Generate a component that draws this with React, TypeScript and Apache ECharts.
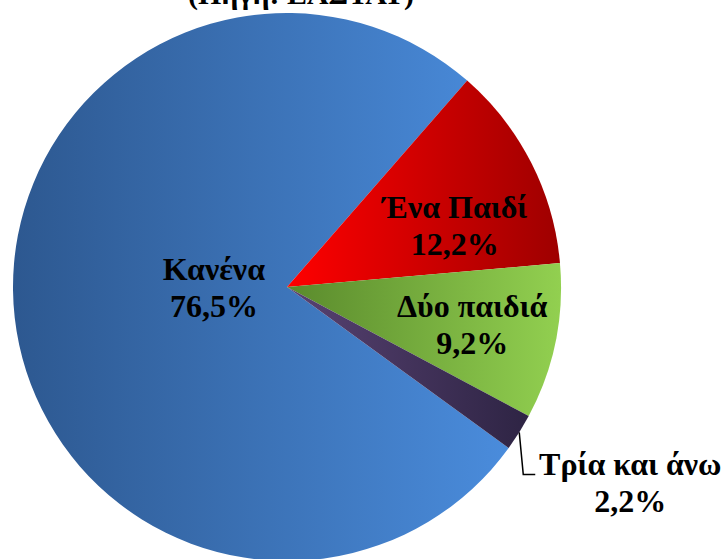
import React, { useEffect, useRef } from "react";
import * as echarts from "echarts";

const categories = ["Κανένα", "Ένα Παιδί", "Δύο παιδιά", "Τρία και άνω"];
const values = [76.5, 12.2, 9.2, 2.2];
const titleText = "(Πηγή: ΕΛΣΤΑΤ)";

const gradients: [string, string][] = [
  ["#2D5890", "#4A8CDC"],
  ["#FF0000", "#9E0000"],
  ["#5A8A2C", "#92D050"],
  ["#584272", "#2E2444"],
];

const FONT = "'Liberation Serif', 'Times New Roman', serif";

export default function App() {
  const ref = useRef<HTMLDivElement>(null);
  useEffect(() => {
    if (!ref.current) return;
    const chart = echarts.init(ref.current, undefined, { renderer: "svg" });
    const data = categories.map((name, i) => ({
      name,
      value: values[i],
      itemStyle: {
        color: new echarts.graphic.LinearGradient(0, 0, 1, 0, [
          { offset: 0, color: gradients[i][0] },
          { offset: 1, color: gradients[i][1] },
        ]),
      },
      label: { position: i === 3 ? "outside" : "inside" },
      labelLine: { show: i === 3 },
    }));
    const shifts: Record<number, [number, number]> = {
      0: [66, -15],
      1: [43, 2],
      2: [48, 9],
    };
    chart.setOption({
      animation: false,
      graphic: [
        {
          type: "text",
          x: 301,
          y: -7,
          style: {
            text: titleText,
            font: `bold 30px ${FONT}`,
            fill: "#000",
            align: "center",
            verticalAlign: "middle",
          },
        },
      ],
      series: [
        {
          type: "pie",
          center: [287, 287],
          radius: 274,
          startAngle: 324,
          clockwise: true,
          avoidLabelOverlap: false,
          data,
          label: {
            show: true,
            color: "#000",
            fontFamily: FONT,
            fontWeight: "bold",
            fontSize: 32,
            lineHeight: 37,
            align: "center",
            formatter: (p: any) =>
              p.name + "\n" + Number(p.value).toFixed(1).replace(".", ",") + "%",
          },
          labelLine: {
            show: true,
            lineStyle: { color: "#000", width: 1.5 },
          },
          emphasis: { disabled: true },
          labelLayout: (p: any) => {
            if (p.dataIndex === 3) {
              const p0 = p.labelLinePoints[0];
              return {
                x: p0[0] + 111,
                y: p0[1] + 50,
                align: "center",
                verticalAlign: "middle",
                labelLinePoints: [
                  [p0[0], p0[1]],
                  [p0[0] + 4, p0[1] + 42],
                  [p0[0] + 16, p0[1] + 42],
                ],
              };
            }
            const s = shifts[p.dataIndex] || [0, 0];
            const r = p.labelRect;
            return {
              x: r.x + r.width / 2 + s[0],
              y: r.y + r.height / 2 + s[1],
              align: "center",
              verticalAlign: "middle",
            };
          },
        },
      ],
    });
    return () => chart.dispose();
  }, []);
  return (
    <div
      ref={ref}
      style={{ position: "fixed", left: 0, top: 0, width: 723, height: 559, background: "#fff" }}
    />
  );
}
